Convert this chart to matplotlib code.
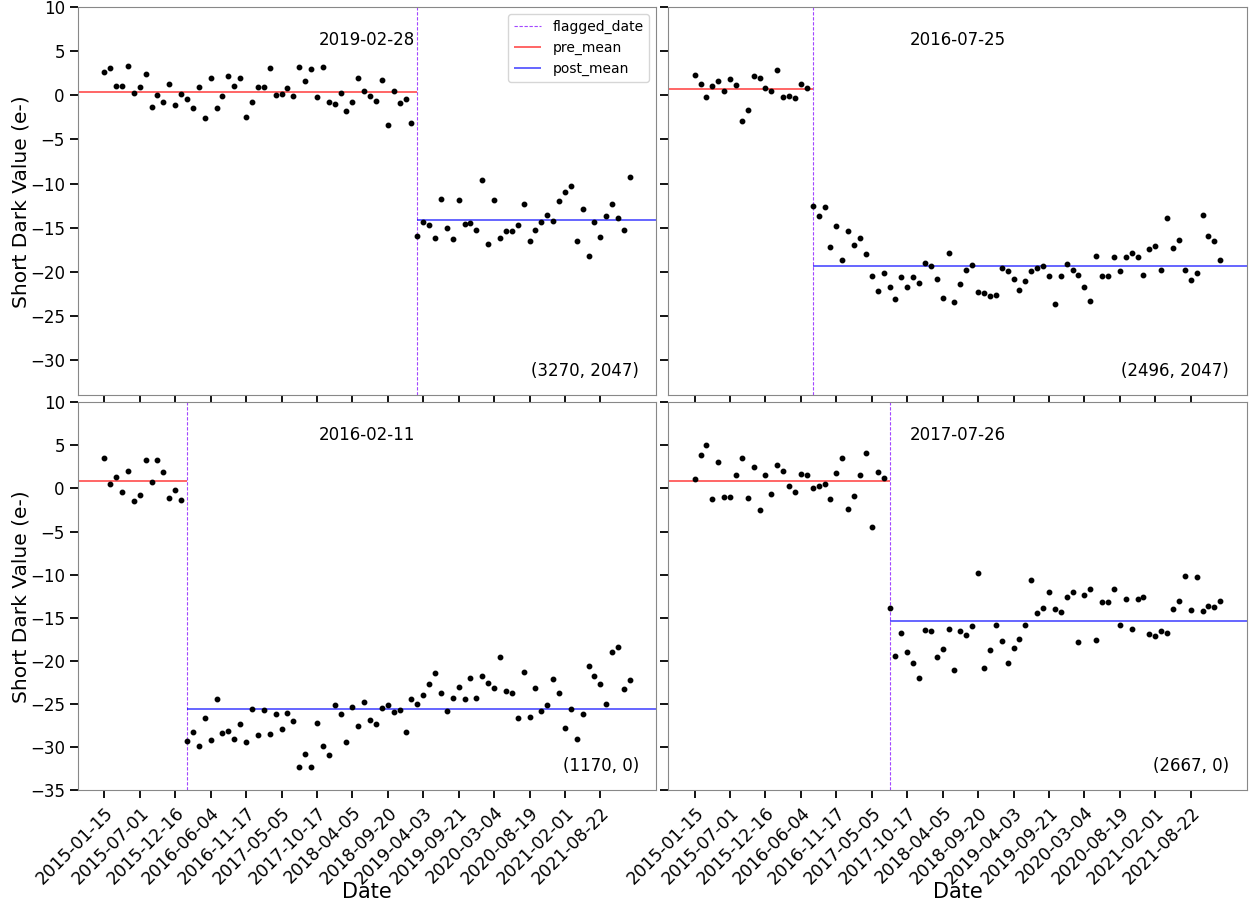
import numpy as np
import matplotlib
matplotlib.use("Agg")
import matplotlib.pyplot as plt

# tick labels (every 6th observation)
tick_labels = ["2015-01-15", "2015-07-01", "2015-12-16", "2016-06-04", "2016-11-17",
               "2017-05-05", "2017-10-17", "2018-04-05", "2018-09-20", "2019-04-03",
               "2019-09-21", "2020-03-04", "2020-08-19", "2021-02-01", "2021-08-22"]
n_points = 90

# panel 1 : (3270, 2047), flagged 2019-02-28
vals_1 = [2.6, 3.1, 1.06, 1.06, 3.3, 0.23, 0.9, 2.46, -1.29, 0.08,
          -0.8, 1.25, -1.14, 0.15, -0.42, -1.48, 0.95, -2.58, 2.0, -1.4,
          -0.08, 2.23, 1.06, 1.93, -2.5, -0.72, 0.98, 0.98, 3.07, 0.0,
          0.15, 0.83, -0.08, 3.18, 1.67, 3.0, -0.23, 3.18, -0.72, -1.02,
          0.23, -1.78, -0.8, 2.0, 0.45, -0.08, -0.64, 1.78, -3.41, 0.53,
          -0.91, -0.45, -3.18,
          -15.95, -14.36, -14.66, -16.17, -11.7, -15.08, -16.33, -11.89, -14.62, -14.47,
          -15.23, -9.55, -16.89, -11.89, -16.17, -15.42, -15.34, -14.7, -12.31, -16.55,
          -15.23, -14.32, -13.6, -14.24, -12.0, -10.9, -10.23, -16.55, -12.84, -18.26,
          -14.32, -16.02, -13.64, -12.27, -13.9, -15.23, -9.28]

# panel 2 : (2496, 2047), flagged 2016-07-25
vals_2 = [2.31, 1.29, -0.15, 1.06, 1.59, 0.45, 1.82, 1.21, -2.95, -1.7,
          2.23, 2.0, 0.83, 0.53, 2.92, -0.23, -0.08, -0.3, 1.29, 0.83,
          -12.58, -13.67, -12.69, -17.16, -14.77, -18.64, -15.38, -16.93, -16.14, -17.99,
          -20.45, -22.16, -20.11, -21.7, -23.1, -20.64, -21.78, -20.57, -21.33, -19.02,
          -19.32, -20.87, -22.95, -17.84, -23.41, -21.4, -19.77, -19.24, -22.31, -22.39,
          -22.8, -22.58, -19.55, -19.92, -20.87, -22.08, -21.02, -19.92, -19.62, -19.39,
          -20.45, -23.64, -20.45, -19.17, -19.77, -20.38, -21.7, -23.33, -18.22, -20.53,
          -20.45, -18.3, -19.92, -18.37, -17.84, -18.3, -20.38, -17.46, -17.05, -19.85,
          -13.9, -17.31, -16.36, -19.85, -20.95, -20.15, -13.52, -15.98, -16.52, -18.71]

# panel 3 : (1170, 0), flagged 2016-02-11
vals_3 = [3.56, 0.46, 1.28, -0.39, 2.05, -1.47, -0.73, 3.33, 0.77, 3.25,
          1.9, -1.08, -0.15, -1.32,
          -29.25, -28.28, -29.86, -26.58, -29.17, -24.37, -28.39, -28.16, -29.09, -27.35,
          -29.4, -25.53, -28.63, -25.73, -28.47, -26.19, -27.93, -26.03, -26.96, -32.26,
          -30.83, -32.34, -27.19, -29.83, -30.91, -25.14, -26.11, -29.4, -25.38, -27.54,
          -24.76, -26.81, -27.27, -25.45, -25.07, -25.88, -25.65, -28.24, -24.45, -24.99,
          -23.98, -22.63, -21.39, -23.67, -25.8, -24.29, -23.02, -24.45, -21.93, -24.29,
          -21.78, -22.55, -23.09, -19.57, -23.52, -23.67, -26.65, -21.24, -26.5, -23.09,
          -25.8, -25.07, -22.09, -23.67, -27.78, -25.57, -29.05, -26.11, -20.62, -21.7,
          -22.63, -24.99, -18.96, -18.38, -23.25, -22.24]

# panel 4 : (2667, 0), flagged 2017-07-26
vals_4 = [1.12, 3.88, 5.0, -1.2, 3.1, -0.97, -0.97, 1.59, 3.49, -1.09,
          2.52, -2.52, 1.59, -0.62, 2.67, 2.05, 0.23, -0.39, 1.67, 1.51,
          0.08, 0.31, 0.47, -1.2, 1.74, 3.49, -2.36, -0.89, 1.59, 4.11,
          -4.42, 1.9, 1.2,
          -13.91, -19.38, -16.74, -18.95, -20.23, -21.94, -16.43, -16.59, -19.57, -18.64,
          -16.36, -21.09, -16.59, -16.98, -15.97, -9.81, -20.78, -18.72, -15.81, -17.71,
          -20.23, -18.49, -17.48, -15.81, -10.66, -14.46, -13.84, -12.02, -13.99, -14.38,
          -12.64, -12.02, -17.79, -12.33, -11.71, -17.56, -13.22, -13.22, -11.63, -15.89,
          -12.79, -16.28, -12.79, -12.56, -16.9, -17.13, -16.59, -16.74, -13.99, -13.02,
          -10.19, -14.15, -10.27, -14.22, -13.68, -13.76, -13.1]

flag_dates = ["2019-02-28", "2016-07-25", "2016-02-11", "2017-07-26"]
flag_index = [53, 20, 14, 33]
pixels = ["(3270, 2047)", "(2496, 2047)", "(1170, 0)", "(2667, 0)"]
all_vals = [vals_1, vals_2, vals_3, vals_4]

fig, axes = plt.subplots(2, 2, figsize=(12.49, 9), dpi=100, sharex=True, sharey="row")
fig.subplots_adjust(left=0.0625, right=0.998, top=0.992, bottom=0.122,
                    wspace=0.021, hspace=0.018)

x = np.arange(n_points)
for k, ax in enumerate(axes.flat):
    y = np.array(all_vals[k])
    fi = flag_index[k]
    ax.plot(x, y, "o", color="black", markersize=3.2, zorder=3)
    xmin, xmax = -4.45, n_points - 1 + 4.45
    ax.axvline(fi, color="#9933ff", linestyle="--", linewidth=0.8, alpha=0.9,
               label="flagged_date", dashes=(3, 1.5))
    ax.hlines(y[:fi].mean(), xmin, fi, color="red", alpha=0.7, linewidth=1.2, label="pre_mean")
    ax.hlines(y[fi:].mean(), fi, xmax, color="blue", alpha=0.7, linewidth=1.2, label="post_mean")
    ax.set_xlim(xmin, xmax)
    ax.text(0.5, 0.915, flag_dates[k], transform=ax.transAxes, ha="center", va="center", fontsize=12)
    ax.text(0.97, 0.04, pixels[k], transform=ax.transAxes, ha="right", va="bottom", fontsize=12)
    for s in ax.spines.values():
        s.set_color("#888888")
    ax.tick_params(axis="both", direction="out", length=6, width=1.3, color="black", labelsize=12)

axes[0, 0].set_ylim(-34, 10)
axes[1, 0].set_ylim(-35, 10)
axes[0, 0].set_yticks([10, 5, 0, -5, -10, -15, -20, -25, -30])
axes[1, 0].set_yticks([10, 5, 0, -5, -10, -15, -20, -25, -30, -35])

for ax in axes[1]:
    ax.set_xticks(np.arange(0, n_points, 6))
    ax.set_xticklabels(tick_labels, rotation=45, ha="right", rotation_mode="anchor", fontsize=12.5)
    ax.set_xlabel("Date", fontsize=15)
    ax.xaxis.set_label_coords(0.5, -0.237)
for ax in axes[:, 0]:
    ax.set_ylabel("Short Dark Value (e-)", fontsize=14.5)
    ax.yaxis.set_label_coords(-0.082, 0.5)

axes[0, 0].legend(loc="upper right", fontsize=10)

fig.savefig("out.png", dpi=100)
